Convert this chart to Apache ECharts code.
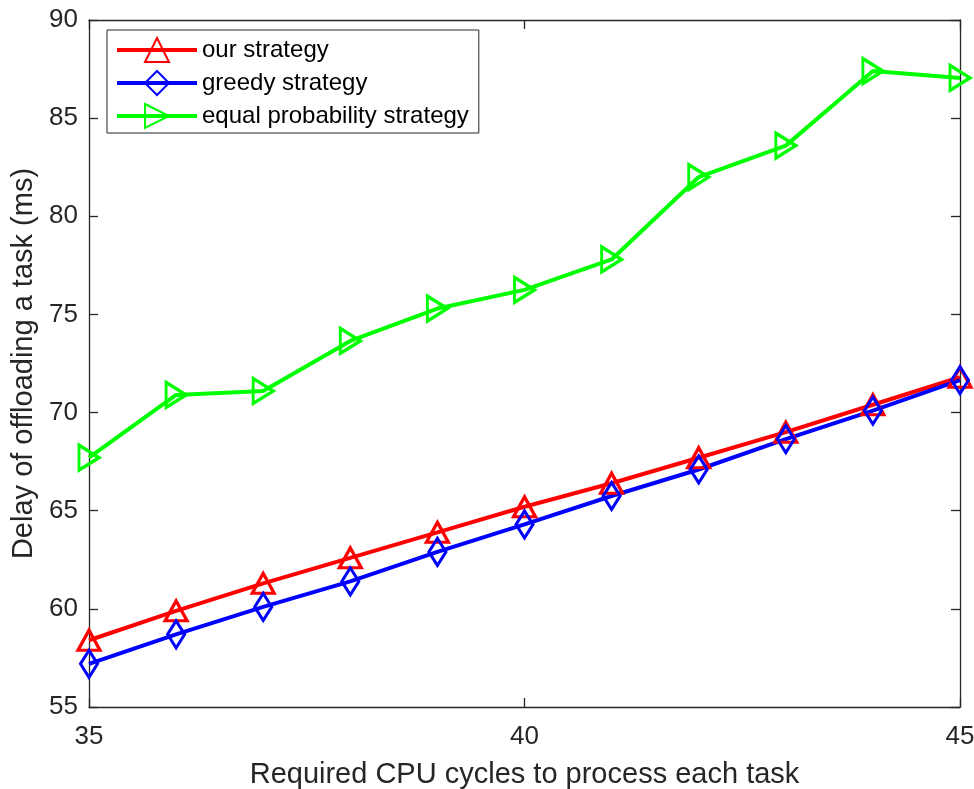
<!DOCTYPE html>
<html>
<head>
<meta charset="utf-8">
<script src="https://cdn.jsdelivr.net/npm/echarts@6/dist/echarts.min.js"></script>
<style>
html,body{margin:0;padding:0;background:#fff;}
#chart{width:974px;height:789px;}
</style>
</head>
<body>
<div id="chart"></div>
<script>
const xValues = [35, 36, 37, 38, 39, 40, 41, 42, 43, 44, 45];
const ourStrategy = [58.4, 59.9, 61.3, 62.6, 63.9, 65.2, 66.4, 67.7, 69.0, 70.4, 71.8];
const greedyStrategy = [57.2, 58.7, 60.1, 61.4, 62.9, 64.3, 65.75, 67.1, 68.65, 70.1, 71.65];
const equalStrategy = [67.7, 70.9, 71.1, 73.65, 75.3, 76.25, 77.8, 82.0, 83.6, 87.4, 87.05];
const seriesNames = ['our strategy', 'greedy strategy', 'equal probability strategy'];
const xTicks = [35, 40, 45];
const yTicks = [55, 60, 65, 70, 75, 80, 85, 90];

const FONT = '"Liberation Sans", Arial, Helvetica, sans-serif';
const AX = '#262626';

function pairs(ys) { return xValues.map((x, i) => [x, ys[i]]); }

const chart = echarts.init(document.getElementById('chart'), null, {renderer: 'canvas'});

function mkSeries(name, data, color, symbol, size) {
  return {
    name: name,
    type: 'line',
    data: pairs(data),
    symbol: symbol,
    symbolSize: size,
    showAllSymbol: true,
    lineStyle: {color: color, width: 4},
    itemStyle: {color: 'rgba(255,255,255,0)', borderColor: color, borderWidth: 3.2},
    emphasis: {disabled: true},
    animation: false,
    z: 3
  };
}

const axisCommon = {
  axisLine: {show: true, onZero: false, lineStyle: {color: AX, width: 1.3}},
  axisTick: {show: true, inside: true, length: 9, lineStyle: {color: AX, width: 1.3}},
  splitLine: {show: false}
};

chart.setOption({
  backgroundColor: '#ffffff',
  animation: false,
  grid: {left: 89, right: 14, top: 20, bottom: 82, containLabel: false, outerBoundsMode: 'none'},
  legend: {
    show: true,
    orient: 'vertical',
    left: 107,
    top: 30,
    padding: [7, 10, 4, 8],
    itemGap: 7,
    itemWidth: 80,
    itemHeight: 30,
    backgroundColor: '#ffffff',
    borderColor: AX,
    borderWidth: 1,
    borderRadius: 0,
    lineStyle: {width: 4},
    textStyle: {fontFamily: FONT, fontSize: 24, color: '#000'},
    data: seriesNames
  },
  xAxis: [
    Object.assign({
      type: 'value', min: 35, max: 45, interval: 5, position: 'bottom',
      name: 'Required CPU cycles to process each task',
      nameLocation: 'middle', nameGap: 53,
      nameTextStyle: {fontFamily: FONT, fontSize: 29, color: AX},
      axisLabel: {show: true, margin: 17, fontFamily: FONT, fontSize: 26, color: AX,
        customValues: xTicks}
    }, axisCommon),
    Object.assign({
      type: 'value', min: 35, max: 45, interval: 5, position: 'top',
      axisLabel: {show: false}
    }, axisCommon)
  ],
  yAxis: [
    Object.assign({
      type: 'value', min: 55, max: 90, interval: 5, position: 'left',
      name: 'Delay of offloading a task (ms)',
      nameLocation: 'middle', nameGap: 50,
      nameTextStyle: {fontFamily: FONT, fontSize: 29, color: AX},
      axisLabel: {show: true, margin: 11, fontFamily: FONT, fontSize: 26, color: AX,
        customValues: yTicks}
    }, axisCommon),
    Object.assign({
      type: 'value', min: 55, max: 90, interval: 5, position: 'right',
      axisLabel: {show: false}
    }, axisCommon)
  ],
  series: [
    mkSeries(seriesNames[0], ourStrategy, '#ff0000', 'path://M5,0 L10,9 L0,9 Z', [22, 20]),
    mkSeries(seriesNames[1], greedyStrategy, '#0000ff', 'path://M5,0 L10,8 L5,16 L0,8 Z', [17, 27]),
    mkSeries(seriesNames[2], equalStrategy, '#00ff00', 'path://M0,0 L9,5 L0,10 Z', [20, 25])
  ]
});
</script>
</body>
</html>
